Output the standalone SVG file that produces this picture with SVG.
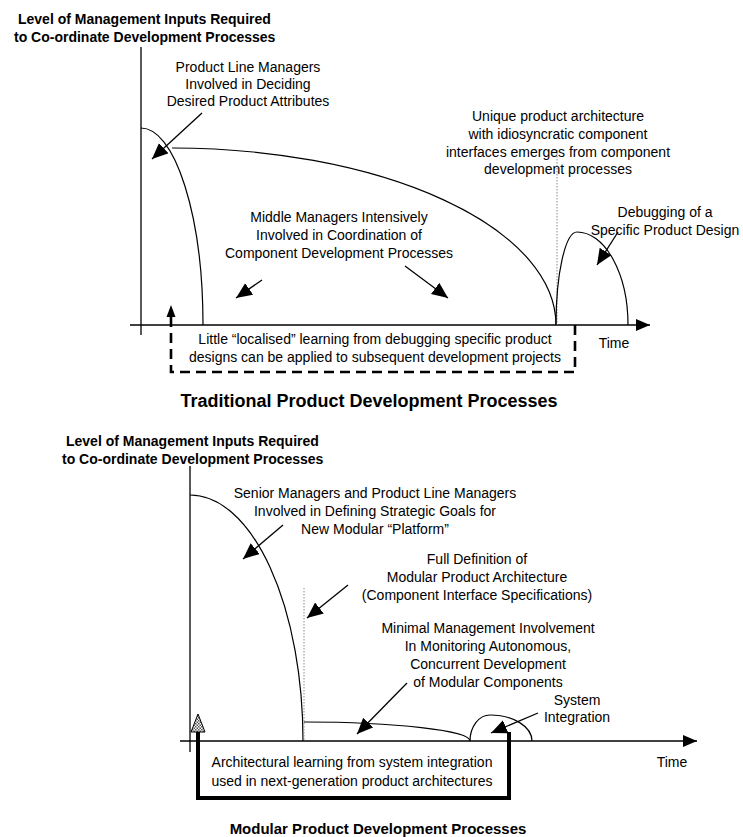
<svg xmlns="http://www.w3.org/2000/svg" width="743" height="837" viewBox="0 0 743 837">
<style>
text{font-family:"Liberation Sans",Arial,sans-serif;fill:#000}
.lbl{font-size:14px;text-anchor:middle}
.ttl{font-size:14px;font-weight:bold}
.big{font-weight:bold;text-anchor:middle}
.ln{fill:none;stroke:#000;stroke-width:1.2}
.ax{fill:none;stroke:#000;stroke-width:1.3}
.dot{fill:none;stroke:#888;stroke-width:1;stroke-dasharray:1.5 1.5}
.ar{fill:none;stroke:#000;stroke-width:1.3;marker-end:url(#ah)}
</style>
<defs>
<marker id="ah" markerUnits="userSpaceOnUse" markerWidth="20" markerHeight="16" refX="16" refY="7" orient="auto"><path d="M0,0 L16,7 L0,14 z" fill="#000"/></marker>
<marker id="axh" markerUnits="userSpaceOnUse" markerWidth="18" markerHeight="14" refX="14" refY="6" orient="auto"><path d="M0,0 L14,6 L0,12 z" fill="#000"/></marker>
<pattern id="hatch" width="3" height="3" patternUnits="userSpaceOnUse"><rect width="3" height="3" fill="#fff"/><rect width="1.5" height="1.5" fill="#555"/><rect x="1.5" y="1.5" width="1.5" height="1.5" fill="#555"/></pattern>
</defs>

<g id="top-chart">
<text class="ttl" x="18" y="24">Level of Management Inputs Required</text>
<text class="ttl" x="14" y="42">to Co-ordinate Development Processes</text>
<g id="top-axes">
<line class="ax" x1="141" y1="47" x2="141" y2="335"/>
<line class="ax" x1="130" y1="325" x2="650" y2="325" marker-end="url(#axh)"/>
<text class="lbl" x="614" y="348">Time</text>
</g>
<g id="top-curves">
<path class="ln" d="M141,128 A62,197 0 0 1 203,325"/>
<path class="ln" d="M172,148 A384,177 0 0 1 556,325"/>
<line class="dot" x1="557" y1="150" x2="557" y2="325"/>
<path class="ln" d="M556,325 A21,93 0 0 1 577,232 A51,93 0 0 1 628,325"/>
</g>
<g id="top-labels">
<text class="lbl" x="248" y="72">Product Line Managers</text>
<text class="lbl" x="248" y="89">Involved in Deciding</text>
<text class="lbl" x="248" y="106">Desired Product Attributes</text>
<text class="lbl" x="558" y="121">Unique product architecture</text>
<text class="lbl" x="558" y="139">with idiosyncratic component</text>
<text class="lbl" x="558" y="157">interfaces emerges from component</text>
<text class="lbl" x="558" y="174">development processes</text>
<text class="lbl" x="665" y="217">Debugging of a</text>
<text class="lbl" x="665" y="235">Specific Product Design</text>
<text class="lbl" x="339" y="222">Middle Managers Intensively</text>
<text class="lbl" x="339" y="240">Involved in Coordination of</text>
<text class="lbl" x="339" y="258">Component Development Processes</text>
<text class="lbl" x="375" y="344">Little “localised” learning from debugging specific product</text>
<text class="lbl" x="375" y="362">designs can be applied to subsequent development projects</text>
</g>
<g id="top-connectors">
<line class="ar" x1="202" y1="113" x2="152" y2="159"/>
<line class="ar" x1="262" y1="280" x2="236" y2="298"/>
<line class="ar" x1="405" y1="266" x2="448" y2="298"/>
<line class="ar" x1="618" y1="232" x2="597" y2="265"/>
<path d="M171,317 V372 H575 V319" fill="none" stroke="#000" stroke-width="2.6" stroke-dasharray="10 6"/>
<path d="M171,305 L166.5,317 L175.5,317 z" fill="#000"/>
</g>
<text class="big" x="369" y="407" font-size="18">Traditional Product Development Processes</text>
</g>

<g id="bottom-chart">
<text class="ttl" x="66" y="446">Level of Management Inputs Required</text>
<text class="ttl" x="62" y="464">to Co-ordinate Development Processes</text>
<g id="bottom-axes">
<line class="ax" x1="190" y1="466" x2="190" y2="752"/>
<line class="ax" x1="180" y1="741" x2="697" y2="741" marker-end="url(#axh)"/>
<text class="lbl" x="672" y="767">Time</text>
</g>
<g id="bottom-curves">
<path class="ln" d="M190,495 A113,246 0 0 1 303,741"/>
<line class="dot" x1="304" y1="588" x2="304" y2="741"/>
<path class="ln" d="M304,722 A166,19 0 0 1 470,741"/>
<path class="ln" d="M470,741 A20,26 0 0 1 490,715 A42,26 0 0 1 532,741"/>
</g>
<g id="bottom-labels">
<text class="lbl" x="375" y="498">Senior Managers and Product Line Managers</text>
<text class="lbl" x="375" y="516">Involved in Defining Strategic Goals for</text>
<text class="lbl" x="375" y="534">New Modular “Platform”</text>
<text class="lbl" x="477" y="564">Full Definition of</text>
<text class="lbl" x="477" y="582">Modular Product Architecture</text>
<text class="lbl" x="477" y="600">(Component Interface Specifications)</text>
<text class="lbl" x="488" y="633">Minimal Management Involvement</text>
<text class="lbl" x="488" y="651">In Monitoring Autonomous,</text>
<text class="lbl" x="488" y="669">Concurrent Development</text>
<text class="lbl" x="488" y="687">of Modular Components</text>
<text class="lbl" x="577" y="705">System</text>
<text class="lbl" x="577" y="722">Integration</text>
<text class="lbl" x="352" y="767">Architectural learning from system integration</text>
<text class="lbl" x="352" y="786">used in next-generation product architectures</text>
</g>
<g id="bottom-connectors">
<line class="ar" x1="283" y1="525" x2="243" y2="559"/>
<line class="ar" x1="348" y1="585" x2="307" y2="618"/>
<line class="ar" x1="407" y1="683" x2="357" y2="734"/>
<line class="ar" x1="538" y1="713" x2="491" y2="733"/>
<path d="M198,731 V798 H509 V732" fill="none" stroke="#000" stroke-width="4"/>
<path d="M198,714 L191,732 L205,732 z" fill="url(#hatch)" stroke="#000" stroke-width="1"/>
</g>
<text class="big" x="378" y="834" font-size="15">Modular Product Development Processes</text>
</g>
</svg>
